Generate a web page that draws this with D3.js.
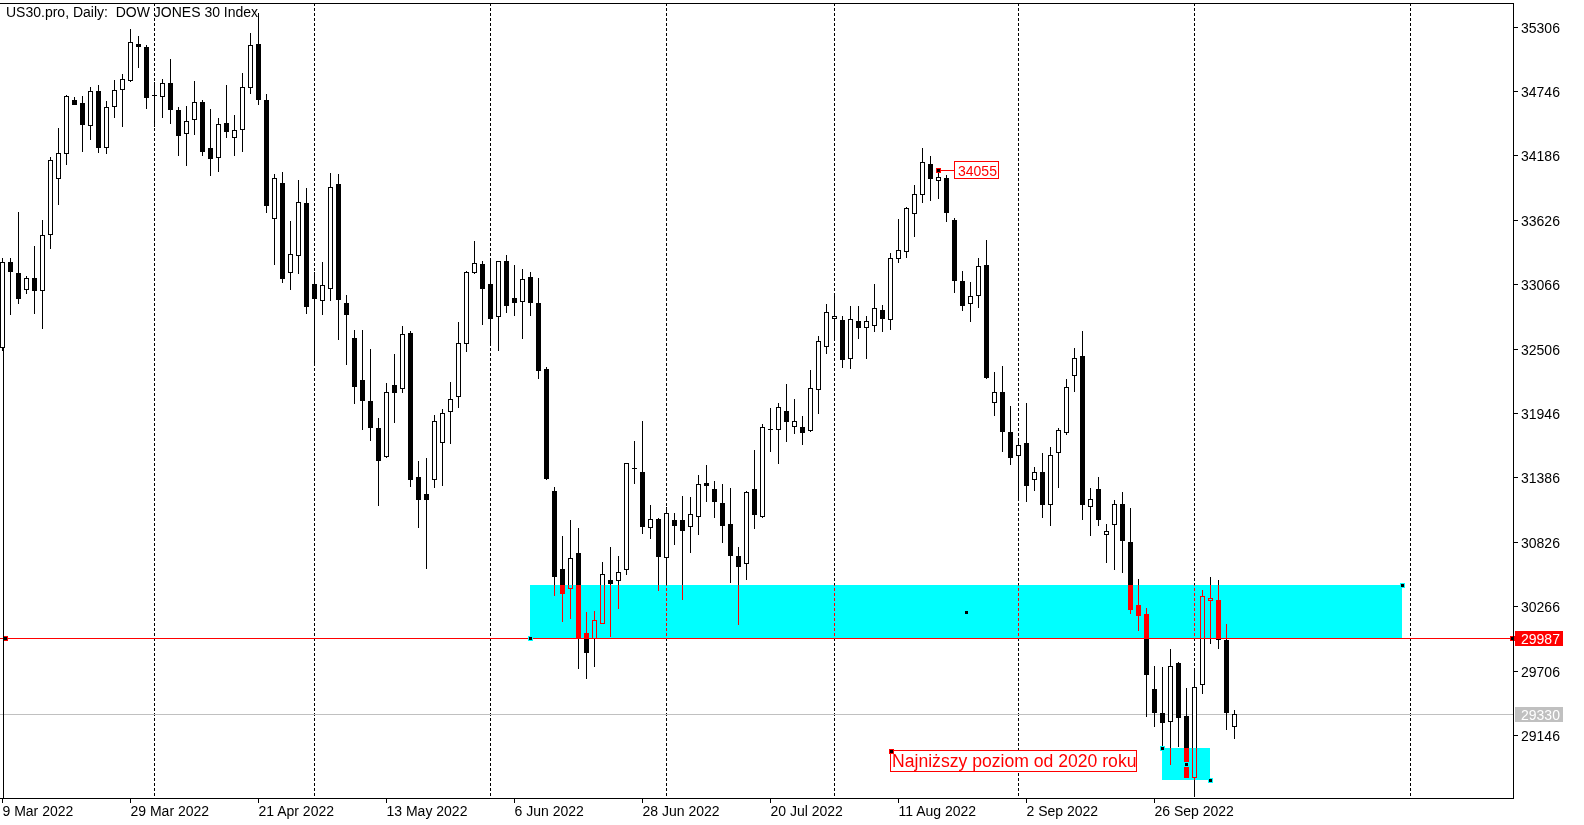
<!DOCTYPE html>
<html><head><meta charset="utf-8">
<script src="https://cdn.jsdelivr.net/npm/d3@7"></script>
<style>
body{margin:0;background:#fff;overflow:hidden}
svg{display:block}
text{font-family:"Liberation Sans",Arial,sans-serif}
</style>
</head><body>
<svg id="c" width="1584" height="825"></svg>
<script>
const opens = [32522,33256,33160,33021,33122,33015,33499,33986,34204,34667,34638,34447,34745,34256,34612,34760,34838,35151,35125,34713,34699,34812,34578,34380,34502,34650,34250,34171,34464,34345,34415,34777,35154,34667,33639,33945,33169,33317,33772,33065,32926,33030,33937,32900,32595,32230,32048,31813,31575,32187,32161,32641,31387,31242,31375,31691,31961,32091,32552,33174,33241,33067,32787,33265,32943,32917,33126,32902,32326,31268,30590,30422,30729,30030,29987,30123,30494,30491,30587,31465,31433,30957,31022,30696,31013,31013,30961,31053,31337,31283,31161,30978,30703,30639,31283,31053,31804,31804,31963,31830,31822,31795,32152,32528,32769,32752,32427,32743,32691,32708,32839,32760,33291,33352,33682,33847,34108,33969,33986,33624,33093,32900,32969,33232,32039,32126,31778,31578,31682,31369,31430,31157,31604,31783,32274,32441,31135,31283,30891,30978,31152,30824,30274,30196,29544,29338,29266,29772,29312,28779,29587,30317,30320,29972,29227];
const highs = [33293,33291,33696,33137,33398,33624,34174,34426,34711,34691,34702,34777,34797,34661,34841,34893,35282,35223,35145,34826,34850,35024,34609,34615,34832,34667,34589,34513,34797,34537,34899,35247,35421,34717,34024,34038,33615,33972,33902,33169,33256,34032,34024,32969,32665,32665,32500,31900,32204,32459,32702,32659,31529,31552,31928,31978,32215,32737,33180,33441,33265,33276,33270,33319,33233,33198,33169,33117,32348,31302,30879,31016,30949,30218,30224,30650,30781,30703,31511,31702,31876,31146,31030,31131,31076,31224,31216,31407,31494,31355,31329,31294,30783,31270,31624,31850,31987,32035,32198,32070,31922,32320,32615,32893,32963,32789,32876,32876,32789,33067,32885,33334,33632,33734,33928,34247,34180,34044,34012,33641,33180,33085,33296,33450,32300,32352,32004,31705,32033,31476,31598,31650,31815,32239,32511,32659,31294,31389,30981,31189,31256,31117,30503,30251,29746,29740,29894,29784,29555,29726,30407,30517,30497,30111,29364];
const lows = [32494,32804,32905,32992,32818,32682,33383,33760,34108,34630,34226,34325,34218,34209,34522,34444,34835,34957,34595,34441,34517,34470,34186,34099,34369,34189,34012,34052,34348,34186,34226,34731,34635,33696,33239,33082,33021,33160,32818,32363,32809,32928,32592,32374,32035,31809,31714,31149,31566,31870,32131,31314,30957,30596,31305,31323,31688,32001,32487,33166,32720,32566,32496,32827,32800,32600,32800,32253,31375,30364,30140,30166,29731,29645,29749,30117,30010,30253,30542,31335,30905,30862,30407,30468,30807,30329,30740,30894,31183,31044,30827,30479,30111,30500,30949,31039,31618,31509,31705,31775,31674,31789,31948,32465,32580,32348,32340,32600,32427,32661,32661,32679,33256,33299,33487,33783,33800,33818,33618,33000,32844,32748,32870,32250,31931,31618,31505,31218,31181,31276,31042,30975,31305,31766,32140,31024,30885,30972,30648,30592,30561,30210,30057,29314,29227,29036,28892,29053,28780,28616,29509,29944,29900,29196,29118];
const closes = [33261,33183,32943,33117,33015,33491,34143,34204,34699,34635,34456,34745,34256,34609,34754,34852,35169,35137,34696,34708,34812,34589,34360,34482,34647,34226,34160,34456,34398,34404,34777,35143,34673,33754,33986,33117,33326,33778,32879,32943,33056,33908,32940,32809,32183,32056,31827,31540,32126,32131,32630,31375,31201,31201,31874,31943,32065,32552,33169,33247,33035,32774,33265,32887,32913,33108,32913,32322,31381,30531,30378,30683,29987,29871,30146,30544,30470,30561,31509,31468,30966,31022,30705,31074,30975,30931,31065,31326,31322,31183,30975,30714,30618,31256,31070,31822,31806,31995,31879,31874,31778,32161,32572,32821,32787,32413,32760,32691,32748,32856,32769,33291,33360,33725,33847,34125,33992,33995,33696,33105,32887,32963,33224,32259,32126,31792,31566,31665,31322,31430,31157,31578,31795,32169,32421,31152,31196,31027,30917,31152,30842,30244,30187,29674,29344,29257,29744,29306,28784,29561,30352,30337,29978,29344,29330];

const xTickIndex = [0,16,32,48,64,80,96,112,128,144];
const xTickLabels = ["9 Mar 2022","29 Mar 2022","21 Apr 2022","13 May 2022","6 Jun 2022","28 Jun 2022","20 Jul 2022","11 Aug 2022","2 Sep 2022","26 Sep 2022"];
const yTicks = [35306,34746,34186,33626,33066,32506,31946,31386,30826,30266,29706,29146];
const separatorIndex = [19,39,61,83,104,127,149,176];

const titleText = "US30.pro, Daily:  DOW JONES 30 Index";
const levelPrice = 29987;
const lastPrice = 29330;
const peakIndex = 117, peakPrice = 34055;
const zoneIdx = [66,175], zonePrice = [30450,29987];
const lowZoneIdx = [145,151], lowZonePrice = [29033,28755];
const noteIndex = 111, notePrice = 29019, noteText = "Najniższy poziom od 2020 roku";

const W = 1584, H = 825;
const plotR = 1513, plotT = 3, plotB = 798;
const x = d3.scaleLinear().domain([0,1]).range([2,10]);
const y = d3.scaleLinear().domain([29146,35306]).range([735,26.5]);
const py = v => Math.round(y(v));
const px = i => Math.round(x(i));

const svg = d3.select("#c").attr("shape-rendering","crispEdges");
svg.append("rect").attr("width",W).attr("height",H).attr("fill","#fff");

// month separators
svg.append("g").selectAll("line").data(separatorIndex).join("line")
  .attr("x1",d=>px(d)+0.5).attr("x2",d=>px(d)+0.5)
  .attr("y1",plotT).attr("y2",plotB)
  .attr("stroke","#000").attr("stroke-width",1).attr("stroke-dasharray","3,2");

// last price line
svg.append("line").attr("x1",0).attr("x2",plotR).attr("y1",py(lastPrice)+0.5).attr("y2",py(lastPrice)+0.5)
  .attr("stroke","#c0c0c0").attr("stroke-width",1);

// candles
const idx = d3.range(opens.length);
const g = svg.append("g");
g.selectAll("line.w").data(idx).join("line").attr("class","w")
  .attr("x1",i=>px(i)+0.5).attr("x2",i=>px(i)+0.5)
  .attr("y1",i=>py(highs[i])).attr("y2",i=>py(lows[i])+1)
  .attr("stroke","#000").attr("stroke-width",1);
idx.forEach(i=>{
  const o=opens[i], c=closes[i];
  const top=py(Math.max(o,c)), bot=py(Math.min(o,c));
  const cx=px(i);
  if (c>o && bot-top>=1){
    g.append("rect").attr("x",cx-1.5).attr("y",top+0.5).attr("width",4).attr("height",bot-top)
      .attr("fill","#fff").attr("stroke","#000").attr("stroke-width",1);
  } else {
    g.append("rect").attr("x",cx-2).attr("y",top).attr("width",5).attr("height",Math.max(1,bot-top+1))
      .attr("fill","#000");
  }
});

// zones drawn as XOR-like (difference) overlay
function zone(ix, pr){
  svg.append("rect").attr("x",px(ix[0])).attr("y",py(pr[0]))
    .attr("width",px(ix[1])-px(ix[0])).attr("height",py(pr[1])-py(pr[0]))
    .attr("fill","#ff0000").style("mix-blend-mode","difference");
}
zone(zoneIdx, zonePrice);
zone(lowZoneIdx, lowZonePrice);

// level line
const ly = py(levelPrice)+0.5;
svg.append("line").attr("x1",0).attr("x2",plotR).attr("y1",ly).attr("y2",ly).attr("stroke","#ff0000").attr("stroke-width",1);

function handle(cx, cy, border){
  svg.append("rect").attr("x",Math.round(cx)-2).attr("y",Math.round(cy)-2).attr("width",5).attr("height",5).attr("fill",border);
  svg.append("rect").attr("x",Math.round(cx)-1).attr("y",Math.round(cy)-1).attr("width",3).attr("height",3).attr("fill","#000");
}
handle(5, ly-0.5, "#ff0000");
handle(plotR-1, ly-0.5, "#ff0000");
handle(px(zoneIdx[0]), py(zonePrice[1]), "#00ffff");
handle(px(zoneIdx[1]), py(zonePrice[0]), "#00ffff");
handle((px(zoneIdx[0])+px(zoneIdx[1]))/2, (py(zonePrice[0])+py(zonePrice[1]))/2, "#00ffff");
handle(px(lowZoneIdx[0]), py(lowZonePrice[0]), "#00ffff");
handle(px(lowZoneIdx[1]), py(lowZonePrice[1]), "#00ffff");
handle((px(lowZoneIdx[0])+px(lowZoneIdx[1]))/2, (py(lowZonePrice[0])+py(lowZonePrice[1]))/2, "#00ffff");

// peak label 34055
const pkx = px(peakIndex), pky = py(peakPrice);
svg.append("line").attr("x1",pkx).attr("x2",pkx+16).attr("y1",pky+0.5).attr("y2",pky+0.5).attr("stroke","#ff0000");
handle(pkx, pky, "#ff0000");
svg.append("rect").attr("x",pkx+16.5).attr("y",pky-8.5).attr("width",44).attr("height",17)
  .attr("fill","#fff").attr("stroke","#ff0000");
svg.append("text").attr("x",pkx+20).attr("y",pky+5.5).attr("font-size",14).attr("fill","#ff0000")
  .attr("shape-rendering","auto").text(String(peakPrice));

// note label
const nx = px(noteIndex), ny = py(notePrice);
svg.append("rect").attr("x",nx+0.5).attr("y",ny+0.5).attr("width",246).attr("height",21)
  .attr("fill","#fff").attr("stroke","#ff0000");
svg.append("text").attr("x",nx+2).attr("y",ny+16.5).attr("font-size",17.6).attr("fill","#ff0000").text(noteText);
handle(nx+0.5, ny+0.5, "#ff0000");

// frame
svg.append("line").attr("x1",0).attr("x2",plotR+1).attr("y1",plotT+0.5).attr("y2",plotT+0.5).attr("stroke","#000");
svg.append("line").attr("x1",plotR+0.5).attr("x2",plotR+0.5).attr("y1",plotT).attr("y2",plotB+1).attr("stroke","#000");
svg.append("line").attr("x1",0).attr("x2",plotR+1).attr("y1",plotB+0.5).attr("y2",plotB+0.5).attr("stroke","#000");
svg.append("line").attr("x1",3.5).attr("x2",3.5).attr("y1",py(opens[0])).attr("y2",plotB).attr("stroke","#000");

// y axis
const ya = svg.append("g");
yTicks.forEach(v=>{
  const yy = py(v)+0.5;
  ya.append("line").attr("x1",plotR+1).attr("x2",plotR+5).attr("y1",yy).attr("y2",yy).attr("stroke","#000");
  ya.append("text").attr("x",plotR+8).attr("y",yy+5).attr("font-size",14).attr("fill","#000").text(v);
});
// price tags
function tag(v, bg){
  const yy = py(v);
  svg.append("rect").attr("x",plotR+2).attr("y",yy-7).attr("width",48).attr("height",15).attr("fill",bg);
  svg.append("text").attr("x",plotR+8).attr("y",yy+5.5).attr("font-size",14).attr("fill","#fff").text(v);
}
tag(levelPrice,"#ff0000");
tag(lastPrice,"#c0c0c0");

// x axis
const xa = svg.append("g");
xTickIndex.forEach((t,k)=>{
  const xx = px(t)+0.5;
  xa.append("line").attr("x1",xx).attr("x2",xx).attr("y1",plotB+1).attr("y2",plotB+5).attr("stroke","#000");
  xa.append("text").attr("x",xx).attr("y",plotB+18).attr("font-size",14).attr("fill","#000").text(xTickLabels[k]);
});

// title
svg.append("text").attr("x",6).attr("y",17).attr("font-size",14).attr("fill","#000")
  .style("white-space","pre").text(titleText);
</script>
</body></html>
